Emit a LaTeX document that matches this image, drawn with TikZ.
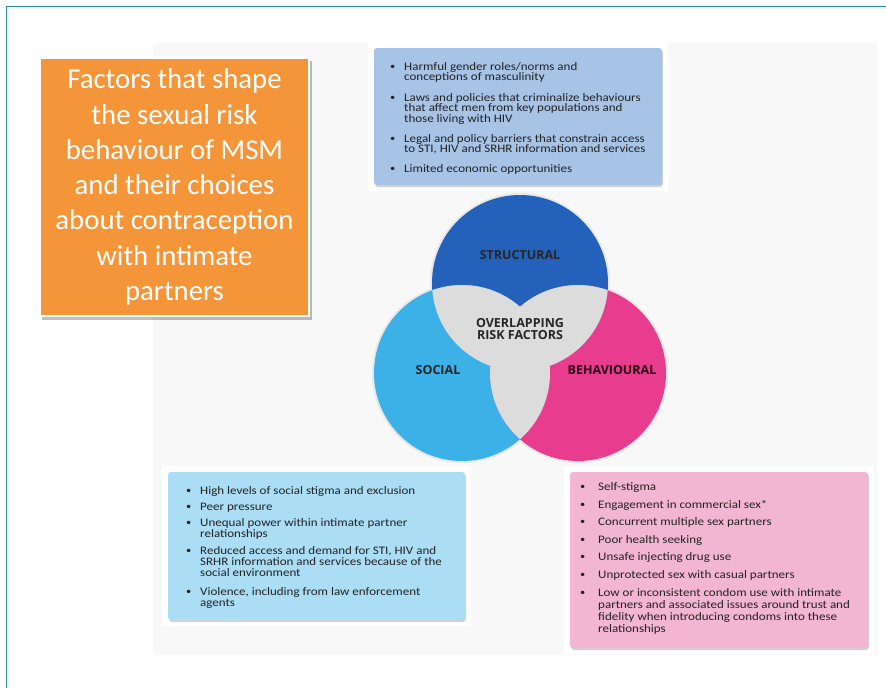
\documentclass[tikz,border=0pt]{standalone}
\usepackage{fontspec}
\setmainfont{Carlito}
\newfontfamily\bodyfont{Carlito}[FakeStretch=1.13]
\newfontfamily\labfont{Open Sans}
\definecolor{frameteal}{HTML}{2A8C8F}
\definecolor{bggray}{HTML}{F8F8F8}
\definecolor{orng}{HTML}{F49539}
\definecolor{topblue}{HTML}{A7C3E6}
\definecolor{socblue}{HTML}{ABDDF4}
\definecolor{behpink}{HTML}{F2B6D3}
\definecolor{structc}{HTML}{2361BA}
\definecolor{socialc}{HTML}{3CB1E8}
\definecolor{behavc}{HTML}{E83C8E}
\definecolor{overc}{HTML}{DCDCDC}
\definecolor{bodytxt}{HTML}{222222}
\newcommand{\bitem}[2]{\makebox[#1][l]{\raisebox{1pt}{\scalebox{0.8}{\textbullet}}}\parbox[t]{300pt}{\raggedright #2}}
\tikzset{
  panel/.style={rounded corners=3pt},
  shadowbox/.style={rounded corners=3pt, fill=black, opacity=0.18},
  itemtxt/.style={anchor=base west, inner sep=0pt, align=left, text=bodytxt},
  toptxt/.style={itemtxt, font=\bodyfont\fontsize{11.5}{10.3}\selectfont},
  soctxt/.style={itemtxt, font=\bodyfont\fontsize{11.5}{10.8}\selectfont},
  behtxt/.style={itemtxt, font=\bodyfont\fontsize{11.5}{12}\selectfont},
  venlab/.style={font=\labfont\bfseries\fontsize{12.5}{13.5}\selectfont, text=black!85, align=center, inner sep=0pt}
}
\begin{document}
\begin{tikzpicture}[x=1pt,y=-1pt]
\useasboundingbox (0,0) rectangle (886,688);
\fill[white] (0,0) rectangle (886,688);
\draw[frameteal, line width=1.5pt] (6.5,688) -- (6.5,6.5) -- (886,6.5);
\fill[bggray] (153,43) rectangle (877,655);

% orange title box
\fill[black, opacity=0.25] (42,61) rectangle (312,320);
\draw[white, line width=2pt, fill=orng] (40,58) rectangle (309,316);
\node[text=white, align=center, inner sep=0pt,
      font=\fontsize{28.8}{35.3}\selectfont] (title) at (174.5,187)
  {Factors that shape\\the sexual risk\\behaviour of MSM\\and their choices\\about contraception\\with intimate\\partners};

% top structural box
\fill[white] (368,42) rectangle (668,191);
\fill[shadowbox] (375,50) rectangle (663,187);
\fill[panel, topblue] (374,48) rectangle (662,185);
\node[toptxt] (s1) at (390,70.5) {\bitem{14pt}{Harmful gender roles/norms and\\conceptions of masculinity}};
\node[toptxt] (s2) at (390,101.5) {\bitem{14pt}{Laws and policies that criminalize behaviours\\that affect men from key populations and\\those living with HIV}};
\node[toptxt] (s3) at (390,142.5) {\bitem{14pt}{Legal and policy barriers that constrain access\\to STI, HIV and SRHR information and services}};
\node[toptxt] (s4) at (390,172.5) {\bitem{14pt}{Limited economic opportunities}};

% Venn diagram
\fill[gray!18] (520,283) circle (90);
\fill[gray!18] (462,373) circle (90);
\fill[gray!18] (578,373) circle (90);
\fill[structc] (520,283) circle (88);
\fill[socialc] (462,373) circle (88);
\fill[behavc] (578,373) circle (88);
\begin{scope}
  \clip (462,373) circle (88);
  \fill[overc] (520,283) circle (88);
  \fill[overc] (578,373) circle (88);
\end{scope}
\begin{scope}
  \clip (520,283) circle (88);
  \fill[overc] (578,373) circle (88);
\end{scope}
\node[venlab] (structural) at (520,255) {STRUCTURAL};
\node[venlab] (overlap) at (520,329) {OVERLAPPING\\[-2pt]RISK FACTORS};
\node[venlab] (social) at (438,370) {SOCIAL};
\node[venlab, text=black!80!purple] (behavioural) at (612,370) {BEHAVIOURAL};

% social box
\fill[white] (162,466) rectangle (471,626);
\fill[shadowbox] (169,474) rectangle (466,622);
\fill[panel, socblue] (168,472) rectangle (465,620);
\node[soctxt] (c1) at (186,494.5) {\bitem{14pt}{High levels of social stigma and exclusion}};
\node[soctxt] (c2) at (186,510.5) {\bitem{14pt}{Peer pressure}};
\node[soctxt] (c3) at (186,526.5) {\bitem{14pt}{Unequal power within intimate partner\\relationships}};
\node[soctxt] (c4) at (186,554.5) {\bitem{14pt}{Reduced access and demand for STI, HIV and\\SRHR information and services because of the\\social environment}};
\node[soctxt] (c5) at (186,595.5) {\bitem{14pt}{Violence, including from law enforcement\\agents}};

% behavioural box
\fill[white] (564,466) rectangle (874,654);
\fill[shadowbox] (571,474) rectangle (869,650);
\fill[panel, behpink] (570,472) rectangle (868,648);
\node[behtxt] (b1) at (580,490.5) {\bitem{18pt}{Self-stigma}};
\node[behtxt] (b2) at (580,508.5) {\bitem{18pt}{Engagement in commercial sex*}};
\node[behtxt] (b3) at (580,525.5) {\bitem{18pt}{Concurrent multiple sex partners}};
\node[behtxt] (b4) at (580,543.5) {\bitem{18pt}{Poor health seeking}};
\node[behtxt] (b5) at (580,560.5) {\bitem{18pt}{Unsafe injecting drug use}};
\node[behtxt] (b6) at (580,578.5) {\bitem{18pt}{Unprotected sex with casual partners}};
\node[behtxt] (b7) at (580,596.5) {\bitem{18pt}{Low or inconsistent condom use with intimate\\partners and associated issues around trust and\\fidelity when introducing condoms into these\\relationships}};
\end{tikzpicture}
\end{document}
